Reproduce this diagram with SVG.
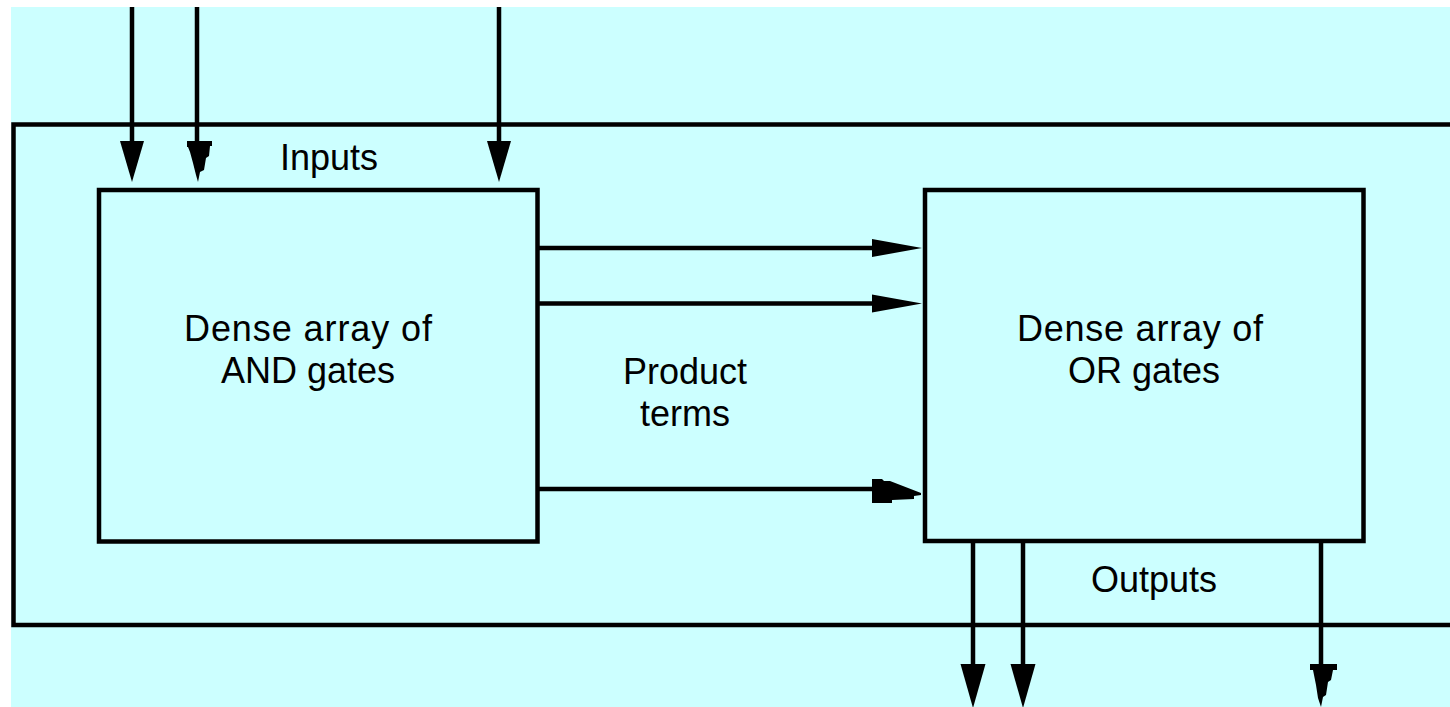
<svg xmlns="http://www.w3.org/2000/svg" width="1450" height="707" viewBox="0 0 1450 707">
  <style>
    .box { fill: none; stroke: #000; stroke-width: 4.5; }
    .wire { fill: none; stroke: #000; stroke-width: 4.5; }
    .head { fill: #000; stroke: none; }
    .lbl { font-family: "Liberation Sans", Arial, sans-serif; font-size: 36px; fill: #000; text-anchor: middle; }
  </style>
  <defs>
    <clipPath id="sheet">
      <rect x="11" y="7" width="1439" height="700"/>
    </clipPath>
  </defs>
  <rect x="0" y="0" width="1450" height="707" fill="#ffffff"/>
  <g clip-path="url(#sheet)">
    <rect x="11" y="7" width="1439" height="700" fill="#ccffff"/>

    <!-- device boundary -->
    <g id="device">
      <rect class="box" x="13.5" y="124.5" width="1460" height="500.5"/>
      <text class="lbl" x="329" y="170">Inputs</text>
      <text class="lbl" x="1154" y="592">Outputs</text>
    </g>

    <!-- AND plane -->
    <g id="and-array">
      <rect class="box" x="99" y="190" width="438.5" height="351.5"/>
      <text class="lbl" x="308" y="341" textLength="248" lengthAdjust="spacing">Dense array of</text>
      <text class="lbl" x="308" y="383">AND gates</text>
    </g>

    <!-- OR plane -->
    <g id="or-array">
      <rect class="box" x="925" y="190" width="438.5" height="351"/>
      <text class="lbl" x="1140" y="341" textLength="246" lengthAdjust="spacing">Dense array of</text>
      <text class="lbl" x="1144" y="383">OR gates</text>
    </g>

    <g id="product-terms-label">
      <text class="lbl" x="685" y="384">Product</text>
      <text class="lbl" x="685" y="426">terms</text>
    </g>

    <g id="connectors">
      <!-- input lines -->
      <line class="wire" x1="132" y1="0" x2="132" y2="145"/>
      <polygon class="head" points="120,141 144,141 132,182"/>
      <line class="wire" x1="197" y1="0" x2="197" y2="145"/>
      <polygon class="head" points="187,141 212,141 212,146 210,146 209,156 206,158 204,170 200,172 198,182 196,175 193,163 190,152 188,147 187,147"/>
      <line class="wire" x1="499" y1="0" x2="499" y2="145"/>
      <polygon class="head" points="487,141 511,141 499,182"/>

      <!-- product terms -->
      <line class="wire" x1="537.5" y1="248" x2="876" y2="248"/>
      <polygon class="head" points="872,239 872,257 922,248"/>
      <line class="wire" x1="537.5" y1="303.5" x2="876" y2="303.5"/>
      <polygon class="head" points="872,294.5 872,312.5 922,303.5"/>
      <line class="wire" x1="537.5" y1="489" x2="876" y2="489"/>
      <polygon class="head" points="872,479 882,479 884,481 890,481 921,493 921,495 914,496 914,499 892,500 892,503 872,503"/>

      <!-- output lines -->
      <line class="wire" x1="973" y1="541" x2="973" y2="668"/>
      <polygon class="head" points="960.5,664 985.5,664 973,708"/>
      <line class="wire" x1="1023" y1="541" x2="1023" y2="668"/>
      <polygon class="head" points="1010.5,664 1035.5,664 1023,708"/>
      <line class="wire" x1="1321" y1="541" x2="1321" y2="668"/>
      <polygon class="head" points="1310,664 1337,664 1337,670 1333,670 1331,680 1328,682 1326,695 1323,697 1321,707 1318,698 1316,685 1314,675 1313,670 1310,670"/>
    </g>
  </g>
</svg>
